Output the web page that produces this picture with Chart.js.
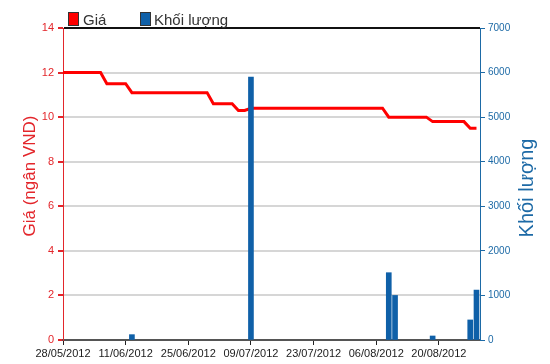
<!DOCTYPE html>
<html>
<head>
<meta charset="utf-8">
<script src="https://cdn.jsdelivr.net/npm/chart.js@4/dist/chart.umd.min.js"></script>
<style>
  html, body { margin: 0; padding: 0; background: #fff; }
  #wrap { width: 550px; height: 364px; position: relative; }
</style>
</head>
<body>
<div id="wrap"><canvas id="chart"></canvas></div>
<script>
// Ngày giao dịch (trục hoành)
const dates = [
  '28/05/2012', '29/05/2012', '30/05/2012', '31/05/2012', '01/06/2012',
  '04/06/2012', '05/06/2012', '06/06/2012', '07/06/2012', '08/06/2012',
  '11/06/2012', '12/06/2012', '13/06/2012', '14/06/2012', '15/06/2012',
  '18/06/2012', '19/06/2012', '20/06/2012', '21/06/2012', '22/06/2012',
  '25/06/2012', '26/06/2012', '27/06/2012', '28/06/2012', '29/06/2012',
  '02/07/2012', '03/07/2012', '04/07/2012', '05/07/2012', '06/07/2012',
  '09/07/2012', '10/07/2012', '11/07/2012', '12/07/2012', '13/07/2012',
  '16/07/2012', '17/07/2012', '18/07/2012', '19/07/2012', '20/07/2012',
  '23/07/2012', '24/07/2012', '25/07/2012', '26/07/2012', '27/07/2012',
  '30/07/2012', '31/07/2012', '01/08/2012', '02/08/2012', '03/08/2012',
  '06/08/2012', '07/08/2012', '08/08/2012', '09/08/2012', '10/08/2012',
  '13/08/2012', '14/08/2012', '15/08/2012', '16/08/2012', '17/08/2012',
  '20/08/2012', '21/08/2012', '22/08/2012', '23/08/2012', '24/08/2012',
  '27/08/2012', '28/08/2012'
];

// Giá (ngàn VND)
const gia = [
  12.0, 12.0, 12.0, 12.0, 12.0, 12.0, 12.0,
  11.5, 11.5, 11.5, 11.5,
  11.1, 11.1, 11.1, 11.1, 11.1, 11.1, 11.1, 11.1, 11.1, 11.1, 11.1, 11.1, 11.1,
  10.6, 10.6, 10.6, 10.6,
  10.3, 10.3,
  10.4, 10.4, 10.4, 10.4, 10.4, 10.4, 10.4, 10.4, 10.4, 10.4, 10.4,
  10.4, 10.4, 10.4, 10.4, 10.4, 10.4, 10.4, 10.4, 10.4, 10.4, 10.4,
  10.0, 10.0, 10.0, 10.0, 10.0, 10.0, 10.0,
  9.8, 9.8, 9.8, 9.8, 9.8, 9.8,
  9.5, 9.5
];

// Khối lượng (chỉ những phiên có giao dịch)
const klNgay = ['12/06/2012', '09/07/2012', '08/08/2012', '09/08/2012', '17/08/2012', '27/08/2012', '28/08/2012'];
const klGiaTri = [120, 5900, 1510, 1000, 90, 450, 1120];

const giaTicks = [0, 2, 4, 6, 8, 10, 12, 14];
const klTicks = [0, 1000, 2000, 3000, 4000, 5000, 6000, 7000];

const RED = '#ff0000';
const RED_TXT = '#e3262b';
const BLUE = '#0f60a8';
const BLUE_TXT = '#1d6aa6';
const FONT = "'Liberation Sans', Arial, sans-serif";

// Chú thích và tiêu đề trục vẽ tay
const trangTri = {
  id: 'trangTri',
  afterDraw(chart) {
    const ctx = chart.ctx;
    ctx.save();
    ctx.textBaseline = 'alphabetic';
    ctx.font = '15px ' + FONT;
    // Giá
    ctx.fillStyle = RED;
    ctx.fillRect(68, 12, 10, 13);
    ctx.strokeStyle = '#333';
    ctx.lineWidth = 1;
    ctx.strokeRect(68.5, 12.5, 10, 13);
    ctx.fillStyle = '#333';
    ctx.textAlign = 'left';
    ctx.fillText('Giá', 83, 25);
    // Khối lượng
    ctx.fillStyle = BLUE;
    ctx.fillRect(140, 12, 10, 13);
    ctx.strokeRect(140.5, 12.5, 10, 13);
    ctx.fillStyle = '#333';
    ctx.fillText('Khối lượng', 154, 25);

    // Tiêu đề trục trái
    ctx.save();
    ctx.translate(30, 176);
    ctx.rotate(-Math.PI / 2);
    ctx.textAlign = 'center';
    ctx.textBaseline = 'middle';
    ctx.font = '17px ' + FONT;
    ctx.fillStyle = RED_TXT;
    ctx.fillText('Giá (ngân VND)', 0, 0);
    ctx.restore();

    // Tiêu đề trục phải
    ctx.save();
    ctx.translate(527, 188);
    ctx.rotate(-Math.PI / 2);
    ctx.textAlign = 'center';
    ctx.textBaseline = 'middle';
    ctx.font = '20px ' + FONT;
    ctx.fillStyle = BLUE_TXT;
    ctx.fillText('Khối lượng', 0, 0);
    ctx.restore();

    ctx.restore();
  }
};

new Chart(document.getElementById('chart'), {
  data: {
    datasets: [
      {
        type: 'bar',
        label: 'Khối lượng',
        data: klNgay.map((d, i) => ({ x: dates.indexOf(d), y: klGiaTri[i] })),
        backgroundColor: BLUE,
        barThickness: 5,
        yAxisID: 'yKL',
        order: 0
      },
      {
        type: 'line',
        label: 'Giá',
        data: gia.map((v, i) => ({ x: i, y: v })),
        borderColor: RED,
        borderWidth: 3,
        pointRadius: 0,
        tension: 0,
        yAxisID: 'yGia',
        order: 1
      }
    ]
  },
  options: {
    responsive: true,
    maintainAspectRatio: false,
    animation: false,
    layout: { padding: { top: 28, left: 0, right: 0, bottom: 0 } },
    plugins: {
      legend: { display: false },
      tooltip: { enabled: false }
    },
    scales: {
      x: {
        type: 'linear',
        offset: false,
        min: 0,
        max: 66.56,
        afterFit: s => { s.height = 24; },
        border: { color: '#555', width: 2 },
        grid: { drawOnChartArea: false, offset: false, tickColor: '#222', tickLength: 5 },
        ticks: {
          stepSize: 10,
          includeBounds: false,
          autoSkip: false,
          maxRotation: 0,
          padding: 2,
          color: '#1a1a1a',
          font: { family: FONT, size: 11 },
          callback: v => dates[v] || ''
        }
      },
      yGia: {
        position: 'left',
        min: 0,
        max: 14,
        afterFit: s => { s.width = 63; },
        afterBuildTicks: s => { s.ticks = giaTicks.map(v => ({ value: v })); },
        border: { color: RED_TXT, width: 1 },
        grid: {
          color: c => (c.tick && c.tick.value === 14 ? '#111' : '#d6d6d6'),
          lineWidth: 2,
          tickColor: RED_TXT,
          tickLength: 5
        },
        ticks: {
          color: RED_TXT,
          padding: 4,
          font: { family: FONT, size: 11 }
        }
      },
      yKL: {
        position: 'right',
        min: 0,
        max: 7000,
        afterFit: s => { s.width = 70; },
        afterBuildTicks: s => { s.ticks = klTicks.map(v => ({ value: v })); },
        border: { color: BLUE_TXT, width: 1 },
        grid: { drawOnChartArea: false, tickColor: BLUE_TXT, tickLength: 5 },
        ticks: {
          color: BLUE_TXT,
          padding: 3,
          font: { family: FONT, size: 10 },
          callback: v => String(v)
        }
      }
    }
  },
  plugins: [trangTri]
});
</script>
</body>
</html>
